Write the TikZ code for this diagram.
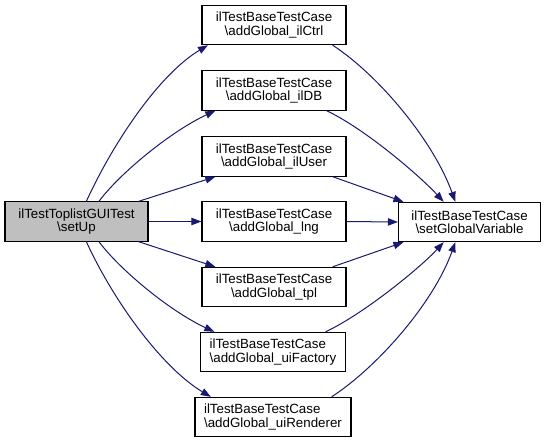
\documentclass[tikz,border=0pt]{standalone}
\usepackage{fontspec}
\setmainfont{Liberation Sans}
\usetikzlibrary{arrows.meta}
\tikzset{every picture/.style={line width=0.75pt}}
\definecolor{edgeblue}{RGB}{25,25,112}
\definecolor{nodegray}{RGB}{191,191,191}

\begin{document}
\begin{tikzpicture}[x=0.75pt,y=0.75pt,yscale=-1,xscale=1,
  fnbox/.style={draw=black, fill=white, line width=0.8pt, minimum width=108pt, minimum height=29.5pt, inner sep=2pt, align=center, font=\fontsize{10}{10}\selectfont},
  calledge/.style={draw=edgeblue, line width=0.75pt, -{Triangle[length=7.5pt,width=5.5pt]}}]
%set diagram area: width 545, height 444
\useasboundingbox (0,0) rectangle (545,444);

%Shape: Rectangle (caller)
\node [fnbox, fill=nodegray, minimum width=107.25pt] (setUp) at (76.5,221.5) {ilTestToplistGUITest\\\textbackslash setUp};

%Shape: Rectangle (called)
\node [fnbox] (ilCtrl) at (274,25) {ilTestBaseTestCase\\\textbackslash addGlobal\_ilCtrl};
\node [fnbox] (ilDB) at (274,90.5) {ilTestBaseTestCase\\\textbackslash addGlobal\_ilDB};
\node [fnbox] (ilUser) at (274,156.5) {ilTestBaseTestCase\\\textbackslash addGlobal\_ilUser};
\node [fnbox] (lng) at (274,221.5) {ilTestBaseTestCase\\\textbackslash addGlobal\_lng};
\node [fnbox] (tpl) at (274,287) {ilTestBaseTestCase\\\textbackslash addGlobal\_tpl};
\node [fnbox, align=left, minimum width=109pt] (uiFactory) at (273,352) {ilTestBaseTestCase\\\textbackslash addGlobal\_uiFactory};
\node [fnbox, align=left, minimum width=117pt] (uiRenderer) at (273,417) {ilTestBaseTestCase\\\textbackslash addGlobal\_uiRenderer};

%Shape: Rectangle (target)
\node [fnbox, minimum width=106.5pt] (setGV) at (469.5,222) {ilTestBaseTestCase\\\textbackslash setGlobalVariable};

% Edges from caller
\draw [calledge] (setUp.64) .. controls +(29,-63) and +(-47,28) .. (ilCtrl.197);
\draw [calledge] (setUp.42) .. controls +(21,-28) and +(-45,21) .. (ilDB.199);
\draw [calledge] (setUp.18) -- (ilUser.199);
\draw [calledge] (setUp.east) -- (lng.west);
\draw [calledge] (setUp.-18) -- (tpl.161);
\draw [calledge] (setUp.-42) .. controls +(21,28) and +(-45,-21) .. (uiFactory.161);
\draw [calledge] (setUp.-64) .. controls +(29,63) and +(-47,-28) .. (uiRenderer.162);

% Edges to target
\draw [calledge] (ilCtrl.341) .. controls +(46,30) and +(-22,-61) .. (setGV.125);
\draw [calledge] (ilDB.339) .. controls +(40,19) and +(-22,-24) .. (setGV.142);
\draw [calledge] (ilUser.341) -- (setGV.163);
\draw [calledge] (lng.east) -- (setGV.west);
\draw [calledge] (tpl.19) -- (setGV.197);
\draw [calledge] (uiFactory.21) .. controls +(40,-19) and +(-22,24) .. (setGV.218);
\draw [calledge] (uiRenderer.19) .. controls +(46,-30) and +(-22,61) .. (setGV.235);

\end{tikzpicture}
\end{document}
